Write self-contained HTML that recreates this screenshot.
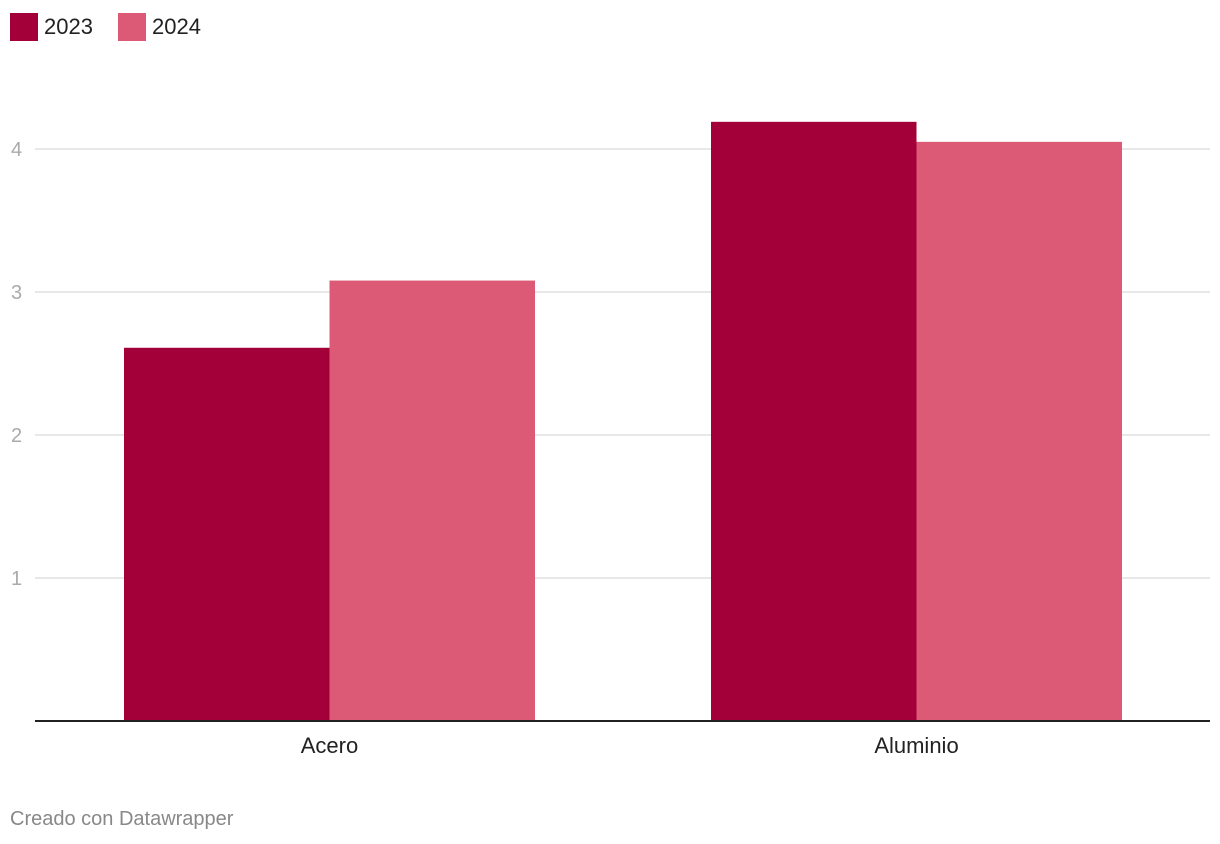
<!DOCTYPE html>
<html><head><meta charset="utf-8"><style>
body{margin:0;background:#fff;font-family:"Liberation Sans",sans-serif;}
svg{display:block}
</style></head><body>
<svg id="chart" width="1220" height="844">
<g>
<rect x="10" y="13" width="28" height="28" fill="#a3003a"/>
<text x="44" y="34" font-size="22" fill="#222">2023</text>
<rect x="118" y="13" width="28" height="28" fill="#dc5a76"/>
<text x="152" y="34" font-size="22" fill="#222">2024</text>
</g>
<g id="grid"></g><g id="bars"></g><g id="xlab"></g>
<line x1="35" x2="1210" y1="721" y2="721" stroke="#222" stroke-width="2"/>
<text x="10" y="825" font-size="20" fill="#888">Creado con Datawrapper</text>
</svg>
<script>
const categories=["Acero","Aluminio"];
const values2023=[2.61,4.19];
const values2024=[3.08,4.05];
const yTicks=[1,2,3,4];
const ns="http://www.w3.org/2000/svg";
const y0=721,pxPerUnit=143,left=35,right=1210;
const y=v=>y0-v*pxPerUnit;
const groupCenter=i=>329.5+i*587;
const barW=205.5;
function mk(tag,attrs,parent){const e=document.createElementNS(ns,tag);for(const k in attrs)e.setAttribute(k,attrs[k]);parent.appendChild(e);return e;}
const grid=document.getElementById('grid');
yTicks.forEach(t=>{
  const l=mk('line',{x1:left,x2:right,y1:y(t),y2:y(t),stroke:'#e0e0e0','stroke-width':1.5},grid);
  
  
  const tx=mk('text',{x:11,y:y(t)+7,'font-size':20,fill:'#aaa'},grid);
  tx.textContent=t;
  
  
});
const bars=document.getElementById('bars'),xl=document.getElementById('xlab');
categories.forEach((c,i)=>{
  const cx=groupCenter(i);
  const b1=mk('rect',{x:cx-barW,y:y(values2023[i]),width:barW,height:values2023[i]*pxPerUnit,fill:'#a3003a'},bars);
  
  
  const b2=mk('rect',{x:cx,y:y(values2024[i]),width:barW,height:values2024[i]*pxPerUnit,fill:'#dc5a76'},bars);
  
  
  const t=mk('text',{x:cx,y:753,'font-size':22,fill:'#222','text-anchor':'middle'},xl);
  t.textContent=c;
  
  
});
</script>
</body></html>
